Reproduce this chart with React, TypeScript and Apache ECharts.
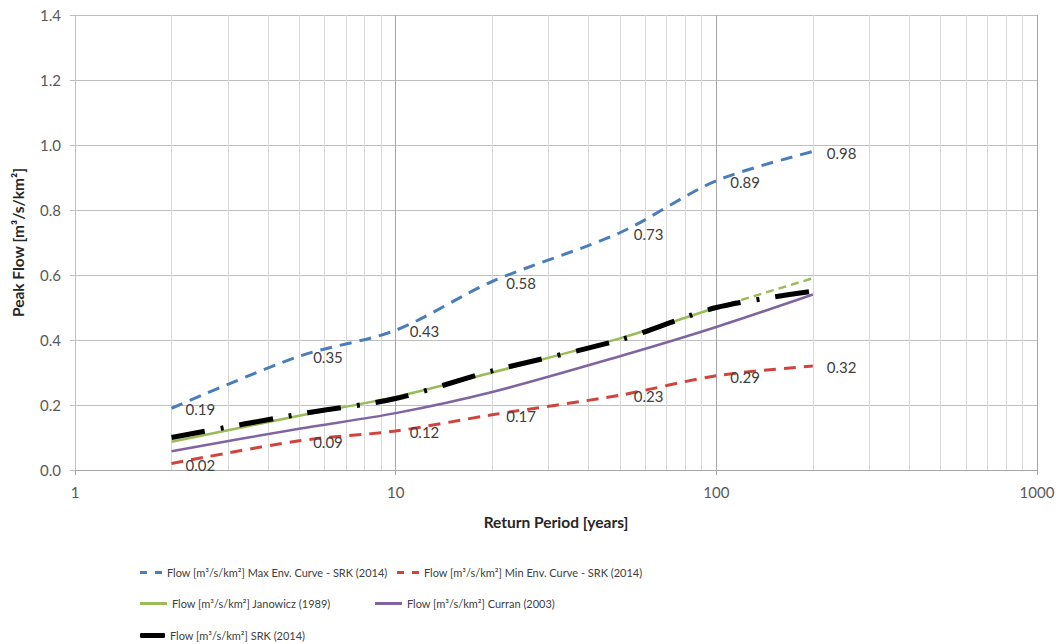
import React, { useEffect, useRef } from "react";
import * as echarts from "echarts";

const returnPeriods = [2, 5, 10, 20, 50, 100, 200];
const maxEnvCurve = [0.19, 0.35, 0.43, 0.58, 0.73, 0.89, 0.98];
const minEnvCurve = [0.02, 0.09, 0.12, 0.17, 0.23, 0.29, 0.32];
const janowicz = [0.087, 0.167, 0.225, 0.3, 0.405, 0.5, 0.59];
const curran = [0.058, 0.127, 0.175, 0.24, 0.35, 0.44, 0.54];
const srk = [0.1, 0.172, 0.22, 0.305, 0.4, 0.5, 0.55];
const minorGridX = [2, 3, 4, 5, 6, 7, 8, 9, 20, 30, 40, 50, 60, 70, 80, 90, 200, 300, 400, 500, 600, 700, 800, 900];

const NAME_MAX = "Flow [m³/s/km²] Max Env. Curve - SRK (2014)";
const NAME_MIN = "Flow [m³/s/km²] Min Env. Curve - SRK (2014)";
const NAME_JAN = "Flow [m³/s/km²] Janowicz (1989)";
const NAME_CUR = "Flow [m³/s/km²] Curran (2003)";
const NAME_SRK = "Flow [m³/s/km²] SRK (2014)";

const FONT = "Lato, 'Liberation Sans', sans-serif";
const DASH_ICON = "path://M0,0H7V1H0Z M15,0H22V1H15Z";

const pairs = (ys: number[]) => returnPeriods.map((x, i) => [x, ys[i]]);

export default function App() {
  const ref = useRef<HTMLDivElement>(null);
  useEffect(() => {
    if (!ref.current) return;
    const chart = echarts.init(ref.current, undefined, { renderer: "svg" });
    const label = {
      show: true,
      position: "right",
      distance: 14,
      offset: [0, 1],
      color: "#404040",
      fontSize: 15,
      fontFamily: FONT,
      formatter: (p: any) => p.value[1].toFixed(2),
    };
    const legendBase = {
      orient: "horizontal",
      itemGap: 6,
      symbolKeepAspect: false,
      textStyle: { color: "#404040", fontSize: 11, fontFamily: FONT },
      selectedMode: false,
    };
    const janData = pairs(janowicz);
    chart.setOption({
      animation: false,
      backgroundColor: "#ffffff",
      textStyle: { fontFamily: FONT },
      grid: { left: 75, right: 24, top: 15, bottom: 174, containLabel: false },
      xAxis: {
        type: "log",
        logBase: 10,
        min: 1,
        max: 1000,
        name: "Return Period [years]",
        nameLocation: "middle",
        nameGap: 44,
        nameTextStyle: { fontWeight: "bold", fontSize: 15.5, color: "#262626", fontFamily: FONT },
        axisLine: { show: true, lineStyle: { color: "#a6a6a6" } },
        axisTick: { show: true, length: 5, lineStyle: { color: "#a6a6a6" } },
        axisLabel: {
          color: "#595959",
          fontSize: 15,
          margin: 14,
          fontFamily: FONT,
          formatter: (v: number) => String(Math.round(v)),
        },
        splitLine: { show: true, lineStyle: { color: "#a6a6a6", width: 1 } },
      },
      yAxis: {
        type: "value",
        min: 0,
        max: 1.4,
        interval: 0.2,
        name: "Peak Flow [m³/s/km²]",
        nameLocation: "middle",
        nameGap: 49,
        nameTextStyle: { fontWeight: "bold", fontSize: 15.5, color: "#262626", fontFamily: FONT },
        axisLine: { show: true, lineStyle: { color: "#bfbfbf" } },
        axisTick: { show: true, length: 5, lineStyle: { color: "#bfbfbf" } },
        axisLabel: {
          color: "#595959",
          fontSize: 15,
          margin: 14,
          fontFamily: FONT,
          formatter: (v: number) => v.toFixed(1),
        },
        splitLine: { show: true, lineStyle: { color: "#bfbfbf", width: 1 } },
      },
      legend: [
        { ...legendBase, left: 135, top: 562, itemWidth: 22, itemHeight: 3, data: [{ name: NAME_MAX, icon: DASH_ICON }] },
        { ...legendBase, left: 392, top: 562, itemWidth: 22, itemHeight: 3, data: [{ name: NAME_MIN, icon: DASH_ICON }] },
        { ...legendBase, left: 135, top: 593, itemWidth: 27, itemHeight: 3, data: [{ name: NAME_JAN, icon: "rect" }] },
        { ...legendBase, left: 370, top: 593, itemWidth: 27, itemHeight: 3, data: [{ name: NAME_CUR, icon: "rect" }] },
        { ...legendBase, left: 135, top: 625, itemWidth: 25, itemHeight: 5, data: [{ name: NAME_SRK, icon: "roundRect" }] },
      ],
      series: [
        {
          name: "minor grid",
          type: "line",
          data: [],
          silent: true,
          z: 0,
          markLine: {
            silent: true,
            symbol: ["none", "none"],
            z: 0,
            label: { show: false },
            lineStyle: { color: "#d9d9d9", width: 1, type: "solid" },
            data: minorGridX.map((x) => ({ xAxis: x })),
          },
        },
        {
          name: NAME_CUR,
          type: "line",
          data: pairs(curran),
          smooth: 0.3,
          showSymbol: false,
          itemStyle: { color: "#8064a2" },
          lineStyle: { color: "#8064a2", width: 2.5 },
          z: 3,
        },
        {
          name: NAME_JAN,
          type: "line",
          data: janData.slice(0, 6),
          smooth: 0.3,
          showSymbol: false,
          itemStyle: { color: "#9bbb59" },
          lineStyle: { color: "#9bbb59", width: 2.5 },
          z: 3,
        },
        {
          name: "Janowicz extension",
          type: "line",
          data: janData.slice(5),
          showSymbol: false,
          itemStyle: { color: "#9bbb59" },
          lineStyle: { color: "#9bbb59", width: 2.5, type: [8, 5] },
          z: 3,
        },
        {
          name: NAME_SRK,
          type: "line",
          data: pairs(srk),
          smooth: 0.3,
          showSymbol: false,
          itemStyle: { color: "#000000" },
          lineStyle: { color: "#000000", width: 5, type: [34, 16, 3, 16] },
          z: 4,
        },
        {
          name: NAME_MAX,
          type: "line",
          data: pairs(maxEnvCurve),
          smooth: 0.3,
          symbol: "circle",
          symbolSize: 0,
          showSymbol: true,
          itemStyle: { color: "#4a7ebb" },
          lineStyle: { color: "#4a7ebb", width: 3, type: [12, 8] },
          label,
          z: 5,
        },
        {
          name: NAME_MIN,
          type: "line",
          data: pairs(minEnvCurve),
          smooth: 0.3,
          symbol: "circle",
          symbolSize: 0,
          showSymbol: true,
          itemStyle: { color: "#d0443e" },
          lineStyle: { color: "#d0443e", width: 3, type: [12, 8] },
          label,
          z: 5,
        },
      ],
    });
    return () => chart.dispose();
  }, []);
  return <div ref={ref} style={{ width: 1061, height: 644, position: "absolute", left: 0, top: 0 }} />;
}
